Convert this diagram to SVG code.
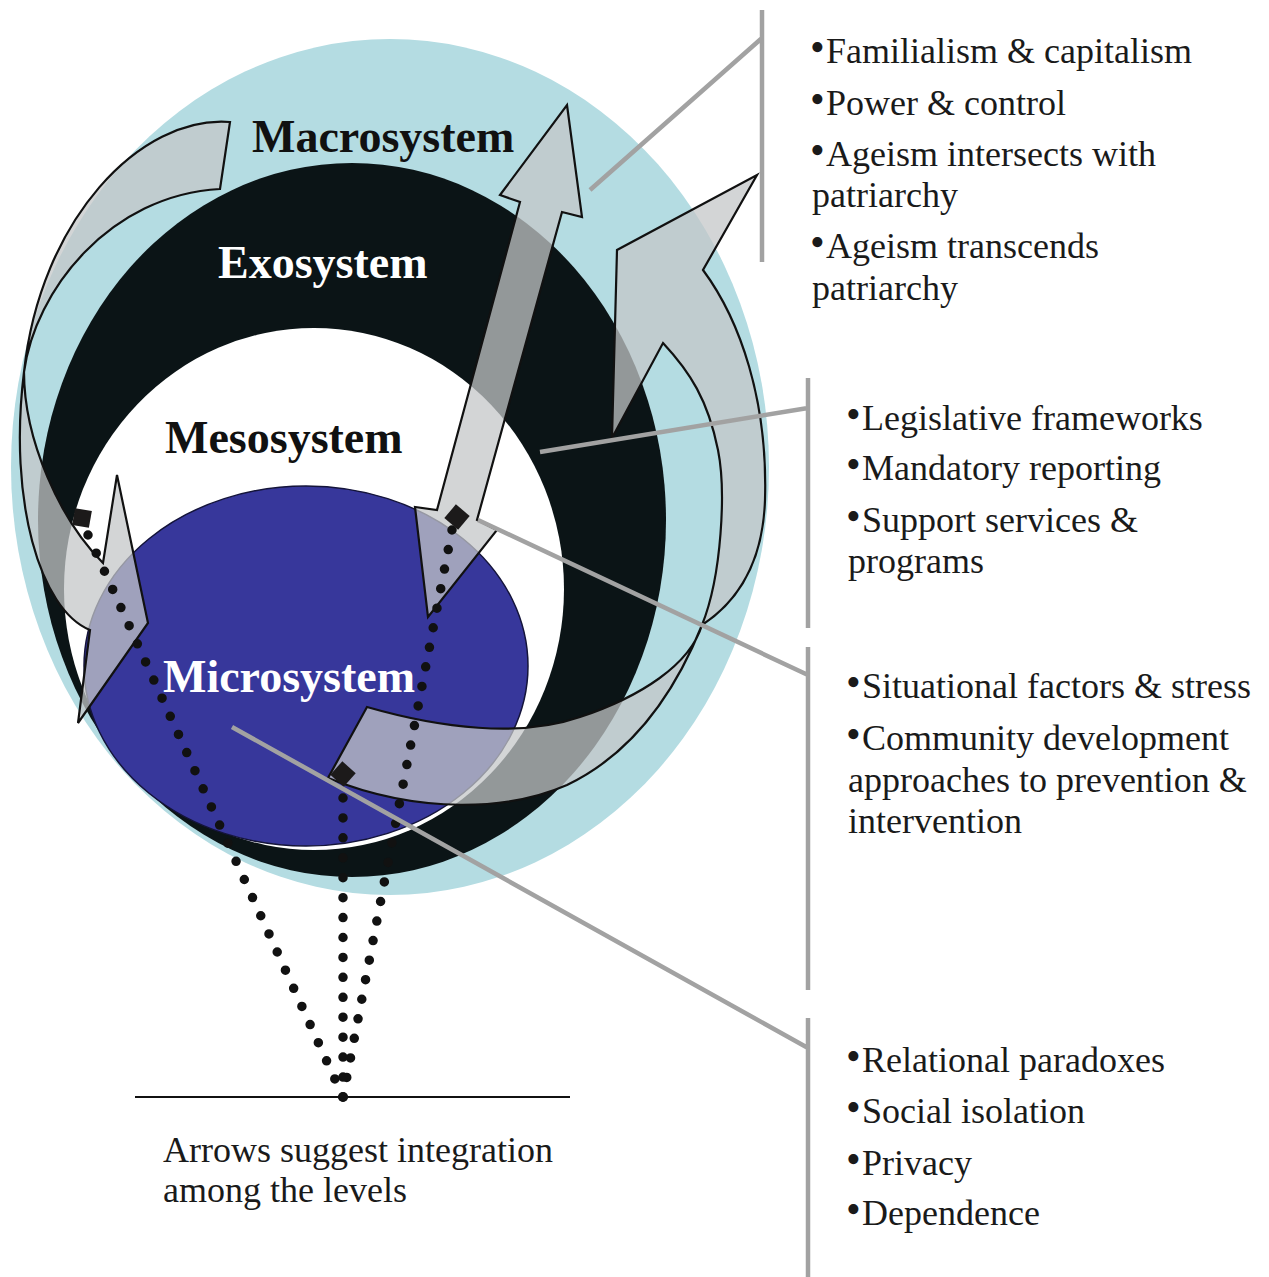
<svg xmlns="http://www.w3.org/2000/svg" width="1269" height="1277" viewBox="0 0 1269 1277">
<defs>
<style>
.lvl{font-family:"Liberation Serif","Times New Roman",serif;font-weight:bold;font-size:46px}
.txt{font-family:"Liberation Serif","Times New Roman",serif;font-size:36px;fill:#1a1a1a}
.bul{font-size:42px}
.arrow{fill:#c4c6c8;fill-opacity:0.74;stroke:#111;stroke-width:2.2;stroke-linejoin:miter}
.dots{fill:none;stroke:#111;stroke-width:9.5;stroke-linecap:round}
.lead{fill:none;stroke:#a2a2a2;stroke-width:4.5}
.dia{fill:#1c1a1a}
</style>
</defs>
<rect width="1269" height="1277" fill="#fff"/>
<g id="macrosystem">
<ellipse cx="390" cy="467" rx="379" ry="428" fill="#b4dce2"/>
</g>
<g id="exosystem">
<ellipse cx="352" cy="520" rx="314" ry="357" fill="#0b1416"/>
</g>
<g id="mesosystem">
<ellipse cx="314" cy="589" rx="250" ry="261" fill="#ffffff"/>
</g>
<g id="microsystem">
<ellipse cx="306" cy="666" rx="222" ry="180" fill="#37379b" stroke="#14143a" stroke-width="1.5"/>
</g>
<g id="connectors">
<path id="arrow-left" class="arrow" d="M230,122 C140,115 40,220 24,372 C24,440 60,520 103,563 L117,475 L148,623 L78,723 L90,630 C40,610 8,500 24,372 C35,290 110,195 220,189 Z"/>
<path id="arrow-straight" class="arrow" d="M567,105 L582,217 L562,212 L477,520 L497,530 L428,617 L415,507 L437,510 L520,202 L500,195 Z"/>
<path id="arrow-right" class="arrow" d="M703,270 C740,320 768,400 765,500 C763,560 740,600 702,625 C680,680 640,750 567,785 C510,810 420,815 328,778 L367,707 C440,728 520,738 580,717 C640,697 690,665 702,625 C722,575 726,490 718,450 C708,400 690,372 663,343 L612,438 L617,250 L757,175 Z"/>
<path class="dots" stroke-dasharray="0 19.91" d="M88,535 L343,1097"/>
<path class="dots" stroke-dasharray="0 19.91" d="M452,530 L343,1097"/>
<path class="dots" stroke-dasharray="0 19.93" d="M343,798 L343,1097"/>
<rect class="dia" x="-8.5" y="-8.5" width="17" height="17" transform="translate(82,518) rotate(10)"/>
<rect class="dia" x="-9" y="-9" width="18" height="18" transform="translate(457,517) rotate(40)"/>
<rect class="dia" x="-9" y="-9" width="18" height="18" transform="translate(343,774) rotate(42)"/>
<line x1="135" y1="1097" x2="570" y2="1097" stroke="#111" stroke-width="2.2"/>
<circle cx="343" cy="1097" r="5" fill="#111"/>
<path class="lead" d="M590,190 L762,38 M762,10 L762,262"/>
<path class="lead" d="M540,452 L808,408 M808,378 L808,628"/>
<path class="lead" d="M478,520 L808,675 M808,647 L808,990"/>
<path class="lead" d="M232,727 L808,1048 M808,1018 L808,1277"/>
</g>
<g id="level-labels">
<text class="lvl" x="252" y="152" fill="#111">Macrosystem</text>
<text class="lvl" x="218" y="278" fill="#fff">Exosystem</text>
<text class="lvl" x="165" y="453" fill="#111">Mesosystem</text>
<text class="lvl" x="163" y="692" fill="#fff">Microsystem</text>
</g>
<g id="macro-notes" class="txt">
<text x="810" y="63"><tspan class="bul" dy="-2">•</tspan><tspan x="826" dy="2">Familialism &amp; capitalism</tspan></text>
<text x="810" y="115"><tspan class="bul" dy="-2">•</tspan><tspan x="826" dy="2">Power &amp; control</tspan></text>
<text x="810" y="166"><tspan class="bul" dy="-2">•</tspan><tspan x="826" dy="2">Ageism intersects with</tspan></text>
<text x="812" y="207">patriarchy</text>
<text x="810" y="258"><tspan class="bul" dy="-2">•</tspan><tspan x="826" dy="2">Ageism transcends</tspan></text>
<text x="812" y="300">patriarchy</text>
</g>
<g id="meso-notes" class="txt">
<text x="846" y="430"><tspan class="bul" dy="-2">•</tspan><tspan x="862" dy="2">Legislative frameworks</tspan></text>
<text x="846" y="480"><tspan class="bul" dy="-2">•</tspan><tspan x="862" dy="2">Mandatory reporting</tspan></text>
<text x="846" y="532"><tspan class="bul" dy="-2">•</tspan><tspan x="862" dy="2">Support services &amp;</tspan></text>
<text x="848" y="573">programs</text>
</g>
<g id="exo-notes" class="txt">
<text x="846" y="698"><tspan class="bul" dy="-2">•</tspan><tspan x="862" dy="2">Situational factors &amp; stress</tspan></text>
<text x="846" y="750"><tspan class="bul" dy="-2">•</tspan><tspan x="862" dy="2">Community development</tspan></text>
<text x="848" y="792">approaches to prevention &amp;</text>
<text x="848" y="833">intervention</text>
</g>
<g id="micro-notes" class="txt">
<text x="846" y="1072"><tspan class="bul" dy="-2">•</tspan><tspan x="862" dy="2">Relational paradoxes</tspan></text>
<text x="846" y="1123"><tspan class="bul" dy="-2">•</tspan><tspan x="862" dy="2">Social isolation</tspan></text>
<text x="846" y="1175"><tspan class="bul" dy="-2">•</tspan><tspan x="862" dy="2">Privacy</tspan></text>
<text x="846" y="1225"><tspan class="bul" dy="-2">•</tspan><tspan x="862" dy="2">Dependence</tspan></text>
</g>
<g id="caption" class="txt">
<text x="163" y="1162">Arrows suggest integration</text>
<text x="163" y="1202">among the levels</text>
</g>
</svg>
